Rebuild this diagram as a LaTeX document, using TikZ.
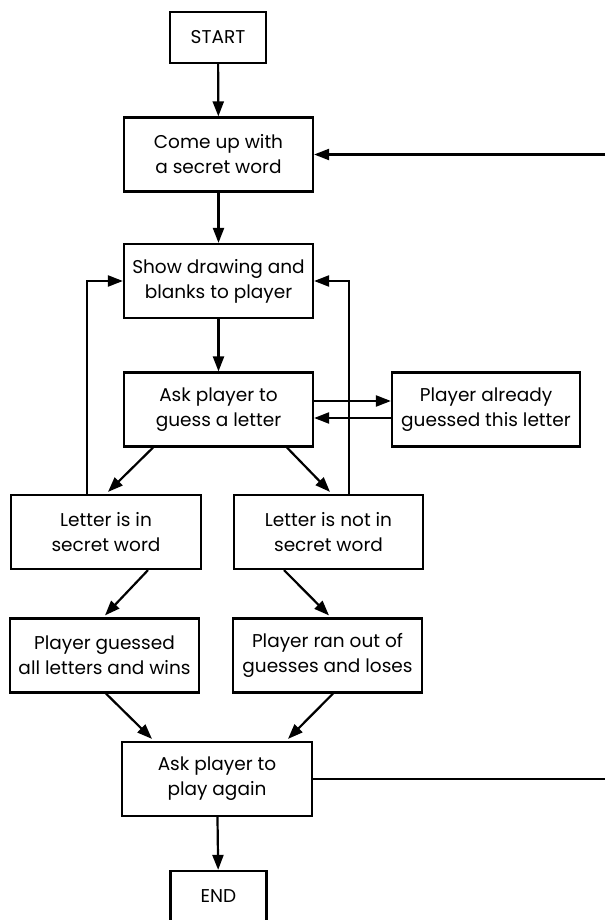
\documentclass[tikz,border=0pt]{standalone}
\usepackage{fontspec}
\setmainfont{Poppins}
\usetikzlibrary{arrows.meta}
\tikzset{
  box/.style={draw, line width=2.2pt, inner sep=0pt, align=center, minimum height=74pt,
    font=\fontsize{18.5}{25}\selectfont},
  wbox/.style={box, minimum width=189pt},
  sbox/.style={box, minimum width=96pt, minimum height=51pt},
  conn/.style={line width=2.2pt, -{Triangle[length=15pt,width=11pt]}},
  plain/.style={line width=2.2pt}
}
\begin{document}
\begin{tikzpicture}[x=1pt,y=-1pt]
\useasboundingbox (0,0) rectangle (605,920);
\clip (0,0) rectangle (605,920);
\node[sbox] (start) at (218,37.5) {START};
\node[wbox] (secret) at (218.5,154.5) {Come up with\\a secret word};
\node[wbox] (show) at (218.5,281) {Show drawing and\\blanks to player};
\node[wbox] (ask) at (218.5,409.5) {Ask player to\\guess a letter};
\node[wbox, minimum width=188pt] (already) at (486,409.5) {Player already\\guessed this letter};
\node[wbox, minimum width=190pt] (letterin) at (106,532) {Letter is in\\secret word};
\node[wbox] (letternot) at (328.5,532) {Letter is not in\\secret word};
\node[wbox] (wins) at (104.5,655.5) {Player guessed\\all letters and wins};
\node[wbox] (loses) at (327.5,655.5) {Player ran out of\\guesses and loses};
\node[wbox, minimum width=190pt] (again) at (217,779) {Ask player to\\play again};
\node[sbox] (end) at (218.5,896.5) {END};
\coordinate (rtop) at (605,154.5);
\coordinate (rbot) at (605,779);

\draw[conn] (start) -- (secret);
\draw[conn] (rtop) -- (secret.east);
\draw[conn] (secret) -- (show);
\draw[conn] (show) -- (ask);
\draw[conn] ([yshift=8.5pt]ask.east) -- ([yshift=8.5pt]already.west);
\draw[conn] ([yshift=-8.5pt]already.west) -- ([yshift=-8.5pt]ask.east);
\draw[conn] ([xshift=-19pt]letterin.north) |- (show.west);
\draw[conn] ([xshift=20.5pt]letternot.north) |- (show.east);
\draw[conn] ([xshift=-65.5pt]ask.south) -- ([xshift=2pt,yshift=2pt]letterin.north);
\draw[conn] ([xshift=68.5pt]ask.south) -- ([xshift=1.5pt,yshift=2pt]letternot.north);
\draw[conn] ([xshift=42pt]letterin.south) -- ([xshift=0.5pt,yshift=2pt]wins.north);
\draw[conn] ([xshift=-44.5pt]letternot.south) -- ([xshift=1.5pt,yshift=2pt]loses.north);
\draw[conn] ([xshift=1.5pt]wins.south) -- ([xshift=-65pt,yshift=2pt]again.north);
\draw[conn] ([xshift=5.5pt]loses.south) -- ([xshift=71pt,yshift=2pt]again.north);
\draw[plain] (again.east) -- (rbot);
\draw[conn] (again) -- (end);
\end{tikzpicture}
\end{document}
